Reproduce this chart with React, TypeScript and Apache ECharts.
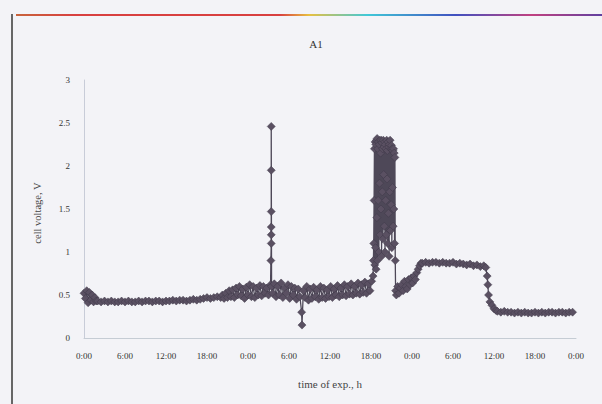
import React, { useEffect, useRef } from "react";
import * as echarts from "echarts";

// Time of experiment (h) and cell voltage (V), by segment
const startT = [0, 0.2, 0.4, 0.6, 0.8, 1.0, 1.2, 1.4, 1.6, 1.8];
const startV = [0.52, 0.46, 0.55, 0.41, 0.53, 0.44, 0.5, 0.42, 0.47, 0.43];

const flatT = [2, 2.5, 3, 3.5, 4, 4.5, 5, 5.5, 6, 6.5, 7, 7.5, 8, 8.5, 9, 9.5, 10, 10.5, 11, 11.5, 12, 12.5, 13, 13.5, 14, 14.5, 15, 15.5, 16, 16.5, 17, 17.5, 18, 18.5, 19, 19.5, 20];
const flatV = [0.43, 0.42, 0.43, 0.42, 0.43, 0.42, 0.42, 0.43, 0.42, 0.43, 0.42, 0.42, 0.43, 0.42, 0.43, 0.43, 0.42, 0.43, 0.43, 0.42, 0.43, 0.43, 0.44, 0.43, 0.44, 0.44, 0.43, 0.44, 0.45, 0.44, 0.45, 0.46, 0.47, 0.46, 0.47, 0.48, 0.47];

const riseT = [20.25, 20.5, 20.75, 21, 21.25, 21.5, 21.75, 22, 22.25, 22.5, 22.75, 23, 23.25, 23.5, 23.75, 24, 24.25, 24.5, 24.75, 25, 25.25, 25.5, 25.75, 26, 26.25, 26.5, 26.75, 27];
const riseV = [0.5, 0.46, 0.52, 0.47, 0.55, 0.48, 0.56, 0.47, 0.58, 0.5, 0.6, 0.49, 0.57, 0.46, 0.59, 0.5, 0.62, 0.48, 0.6, 0.47, 0.58, 0.5, 0.61, 0.49, 0.6, 0.52, 0.58, 0.5];

const spikeT = [27.3, 27.35, 27.4, 27.4, 27.4, 27.4, 27.4, 27.4, 27.45];
const spikeV = [0.62, 0.9, 1.1, 1.2, 1.29, 1.47, 1.95, 2.46, 0.6];

const bandT = [27.6, 27.85, 28.1, 28.35, 28.6, 28.85, 29.1, 29.35, 29.6, 29.85, 30.1, 30.35, 30.6, 30.85, 31.1, 31.35, 31.6, 31.85, 31.9, 32.1, 32.35, 32.6, 32.85, 33.1, 33.35, 33.6, 33.85, 34.1, 34.35, 34.6, 34.85, 35.1, 35.35, 35.6, 35.85, 36.1, 36.35, 36.6, 36.85, 37.1, 37.35, 37.6, 37.85, 38.1, 38.35, 38.6, 38.85, 39.1, 39.35, 39.6, 39.85, 40.1, 40.35, 40.6, 40.85, 41.1, 41.35, 41.6, 41.85, 42.1];
const bandV = [0.52, 0.63, 0.48, 0.6, 0.5, 0.64, 0.47, 0.58, 0.52, 0.62, 0.46, 0.6, 0.5, 0.58, 0.45, 0.57, 0.48, 0.3, 0.15, 0.55, 0.47, 0.6, 0.44, 0.57, 0.46, 0.59, 0.48, 0.56, 0.45, 0.6, 0.47, 0.58, 0.46, 0.56, 0.48, 0.6, 0.47, 0.57, 0.5, 0.61, 0.48, 0.58, 0.5, 0.62, 0.49, 0.6, 0.51, 0.63, 0.5, 0.6, 0.52, 0.64, 0.51, 0.62, 0.53, 0.65, 0.52, 0.63, 0.55, 0.66];

const highT = [42.3, 42.35, 42.4, 42.45, 42.5, 42.55, 42.6, 42.65, 42.7, 42.75, 42.8, 42.85, 42.9, 42.95, 43.0, 43.05, 43.1, 43.15, 43.2, 43.25, 43.3, 43.35, 43.4, 43.45, 43.5, 43.55, 43.6, 43.65, 43.7, 43.75, 43.8, 43.85, 43.9, 43.95, 44.0, 44.05, 44.1, 44.15, 44.2, 44.25, 44.3, 44.35, 44.4, 44.45, 44.5, 44.55, 44.6, 44.65, 44.7, 44.75, 44.8, 44.85, 44.9, 44.95, 45.0, 45.05, 45.1, 45.15, 45.2, 45.25, 45.3, 45.35, 45.4, 45.45, 45.5, 45.55, 45.6];
const highV = [0.72, 0.9, 1.1, 1.6, 2.2, 0.85, 2.28, 1.05, 2.25, 0.8, 2.3, 1.4, 2.32, 0.9, 2.2, 1.6, 2.28, 1.0, 2.25, 1.8, 2.3, 1.2, 2.15, 1.5, 2.3, 0.95, 2.27, 1.7, 2.2, 1.15, 2.3, 1.9, 2.22, 1.3, 2.28, 1.0, 2.25, 1.6, 2.2, 1.2, 2.3, 1.85, 2.18, 1.1, 2.28, 1.45, 2.22, 0.95, 2.25, 1.7, 2.3, 1.25, 2.2, 1.55, 2.24, 1.05, 2.2, 1.75, 2.18, 1.3, 2.2, 1.5, 2.15, 1.1, 2.1, 0.9, 0.55];

const recoverT = [45.7, 45.9, 46.1, 46.3, 46.5, 46.7, 46.9, 47.1, 47.3, 47.5, 47.7, 47.9, 48.1, 48.3, 48.5, 48.7, 48.9, 49.1, 49.3];
const recoverV = [0.5, 0.6, 0.52, 0.58, 0.62, 0.55, 0.66, 0.6, 0.57, 0.68, 0.62, 0.7, 0.64, 0.72, 0.68, 0.76, 0.8, 0.84, 0.87];

const plateauT = [49.5, 50, 50.5, 51, 51.5, 52, 52.5, 53, 53.5, 54, 54.5, 55, 55.5, 56, 56.5, 57, 57.5, 58, 58.5];
const plateauV = [0.87, 0.88, 0.87, 0.88, 0.88, 0.87, 0.88, 0.87, 0.87, 0.88, 0.86, 0.87, 0.86, 0.85, 0.86, 0.84, 0.85, 0.83, 0.84];

const dropT = [58.8, 59.0, 59.1, 59.2, 59.4, 59.7, 60.0, 60.3];
const dropV = [0.82, 0.72, 0.62, 0.5, 0.42, 0.38, 0.34, 0.32];

const endT = [60.5, 61, 61.5, 62, 62.5, 63, 63.5, 64, 64.5, 65, 65.5, 66, 66.5, 67, 67.5, 68, 68.5, 69, 69.5, 70, 70.5, 71, 71.5];
const endV = [0.31, 0.3, 0.31, 0.3, 0.3, 0.29, 0.3, 0.29, 0.3, 0.29, 0.29, 0.3, 0.29, 0.3, 0.29, 0.3, 0.3, 0.29, 0.3, 0.3, 0.29, 0.3, 0.3];

const xTickLabels = ["0:00", "6:00", "12:00", "18:00"];

const segments: [number[], number[]][] = [
  [startT, startV], [flatT, flatV], [riseT, riseV], [spikeT, spikeV], [bandT, bandV],
  [highT, highV], [recoverT, recoverV], [plateauT, plateauV], [dropT, dropV], [endT, endV],
];

export default function App() {
  const ref = useRef<HTMLDivElement>(null);
  useEffect(() => {
    if (!ref.current) return;
    const chart = echarts.init(ref.current, null, { renderer: "svg" });
    const data: number[][] = [];
    segments.forEach(([ts, vs]) => ts.forEach((t, i) => data.push([t, vs[i]])));
    const font = "Liberation Serif";
    chart.setOption({
      animation: false,
      backgroundColor: "#f3f3f7",
      title: {
        text: "A1",
        left: 311,
        top: 33,
        textAlign: "center",
        textStyle: { fontFamily: font, fontSize: 11, fontWeight: "normal", color: "#333" },
      },
      grid: { left: 84, right: 26, top: 80, bottom: 66 },
      xAxis: {
        type: "value",
        min: 0,
        max: 72,
        interval: 6,
        name: "time of exp., h",
        nameLocation: "middle",
        nameGap: 40,
        nameTextStyle: { fontFamily: font, fontSize: 11, color: "#444" },
        axisLine: { lineStyle: { color: "#c5ccd4" } },
        axisTick: { show: false },
        splitLine: { show: false },
        axisLabel: {
          fontFamily: font,
          fontSize: 9,
          color: "#333",
          margin: 13,
          formatter: (v: number) => xTickLabels[Math.round(v / 6) % 4],
        },
      },
      yAxis: {
        type: "value",
        min: 0,
        max: 3,
        interval: 0.5,
        axisLine: { show: true, lineStyle: { color: "#c8ccd8" } },
        axisTick: { show: false },
        splitLine: { show: false },
        axisLabel: { fontFamily: font, fontSize: 9, color: "#333", margin: 14 },
      },
      graphic: [
        {
          type: "line",
          shape: { x1: 12, y1: 14, x2: 12, y2: 404 },
          style: { stroke: "#666", lineWidth: 2 },
        },
        {
          type: "rect",
          shape: { x: 16, y: 14, width: 586, height: 2 },
          style: {
            fill: new echarts.graphic.LinearGradient(0, 0, 1, 0, [
              { offset: 0, color: "#c8643c" },
              { offset: 0.1, color: "#d84040" },
              { offset: 0.45, color: "#d84040" },
              { offset: 0.5, color: "#e8c040" },
              { offset: 0.6, color: "#40c8d8" },
              { offset: 0.75, color: "#4050c0" },
              { offset: 0.88, color: "#c04080" },
              { offset: 1, color: "#6040a0" },
            ]),
          },
        },
        {
          type: "text",
          x: 37,
          y: 213,
          rotation: Math.PI / 2,
          style: {
            text: "cell voltage, V",
            fontFamily: font,
            fontSize: 10.5,
            fill: "#444",
            align: "center",
            verticalAlign: "middle",
          },
        },
      ],
      series: [
        {
          type: "line",
          data,
          symbol: "diamond",
          symbolSize: 8,
          lineStyle: { color: "#4e4858", width: 1.3 },
          itemStyle: { color: "#5a5062", borderColor: "#3e3848", borderWidth: 0.5 },
        },
      ],
    });
    return () => chart.dispose();
  }, []);
  return <div ref={ref} style={{ position: "absolute", left: 0, top: 0, width: 602, height: 404 }} />;
}
